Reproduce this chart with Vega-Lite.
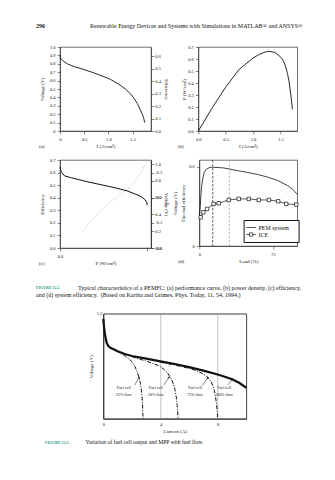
{
"$schema": "https://vega.github.io/schema/vega-lite/v6.json",
"background": "white",
"padding": {"left": 36, "top": 22, "right": 4, "bottom": 4},
"spacing": 10.7,
"resolve": {"scale": {"shape": "independent"}, "legend": {"shape": "independent"}},
"config": {
 "font": "Liberation Serif",
 "view": {"stroke": "#333", "strokeWidth": 0.7},
 "axis": {"labelFont": "Liberation Serif", "titleFont": "Liberation Serif", "labelFontSize": 4.5, "titleFontSize": 5, "titleFontWeight": "normal", "labelColor": "#111", "titleColor": "#111", "domainColor": "#333", "tickColor": "#333", "domainWidth": 0.7, "tickWidth": 0.6, "tickSize": 2.8, "labelPadding": 2.2, "titlePadding": 2.5, "grid": false, "labelFlush": false, "labelOverlap": false},
 "title": {"font": "Liberation Serif", "fontWeight": "normal", "color": "#111"}
},
"datasets": {
 "pa": [{"I":0,"V":0.9},{"I":0.02,"V":0.86},{"I":0.05,"V":0.84},{"I":0.15,"V":0.8},{"I":0.3,"V":0.765},{"I":0.45,"V":0.74},{"I":0.66,"V":0.7},{"I":0.87,"V":0.655},{"I":1.04,"V":0.615},{"I":1.22,"V":0.555},{"I":1.35,"V":0.5},{"I":1.46,"V":0.44},{"I":1.53,"V":0.39},{"I":1.6,"V":0.325},{"I":1.66,"V":0.25},{"I":1.7,"V":0.2},{"I":1.73,"V":0.15},{"I":1.75,"V":0.1}],
 "pb": [{"I":0,"P":0},{"I":0.1,"P":0.075},{"I":0.25,"P":0.19},{"I":0.5,"P":0.365},{"I":0.75,"P":0.515},{"I":1.0,"P":0.607},{"I":1.1,"P":0.635},{"I":1.2,"P":0.655},{"I":1.29,"P":0.665},{"I":1.4,"P":0.655},{"I":1.49,"P":0.623},{"I":1.55,"P":0.59},{"I":1.59,"P":0.546},{"I":1.63,"P":0.48},{"I":1.66,"P":0.41},{"I":1.68,"P":0.34},{"I":1.7,"P":0.27},{"I":1.72,"P":0.18}],
 "pc1": [{"k":1,"P":0,"E":0.645},{"k":2,"P":0.005,"E":0.62},{"k":3,"P":0.014,"E":0.6},{"k":4,"P":0.038,"E":0.573},{"k":5,"P":0.086,"E":0.56},{"k":6,"P":0.22,"E":0.527},{"k":7,"P":0.38,"E":0.493},{"k":8,"P":0.46,"E":0.475},{"k":9,"P":0.54,"E":0.455},{"k":10,"P":0.62,"E":0.424},{"k":11,"P":0.66,"E":0.405},{"k":12,"P":0.685,"E":0.385},{"k":13,"P":0.7,"E":0.363},{"k":14,"P":0.703,"E":0.35},{"k":15,"P":0.7,"E":0.34}],
 "pc2": [{"k":1,"P":0.7,"E":0.34},{"k":2,"P":0.648,"E":0.297},{"k":3,"P":0.594,"E":0.257},{"k":4,"P":0.487,"E":0.212},{"k":5,"P":0.38,"E":0.172},{"k":6,"P":0.273,"E":0.122},{"k":7,"P":0.18,"E":0.064}],
 "pem": [{"Load":0,"E":0.23},{"Load":1,"E":0.3},{"Load":1.7,"E":0.39},{"Load":2.5,"E":0.46},{"Load":3.8,"E":0.52},{"Load":5,"E":0.555},{"Load":7.2,"E":0.58},{"Load":11,"E":0.595},{"Load":15,"E":0.595},{"Load":25,"E":0.59},{"Load":39,"E":0.57},{"Load":50,"E":0.555},{"Load":60,"E":0.54},{"Load":70,"E":0.52},{"Load":80,"E":0.495},{"Load":90,"E":0.457},{"Load":95,"E":0.43},{"Load":100,"E":0.39}],
 "ice": [{"Load":1.4,"E":0.217},{"Load":4.1,"E":0.255},{"Load":7.9,"E":0.28},{"Load":14.6,"E":0.318},{"Load":19.8,"E":0.323},{"Load":30,"E":0.348},{"Load":40.3,"E":0.356},{"Load":50.5,"E":0.356},{"Load":60.7,"E":0.348},{"Load":71,"E":0.348},{"Load":80.5,"E":0.338},{"Load":88.7,"E":0.318},{"Load":99,"E":0.313}],
 "series": [{"s":"PEM system"},{"s":"ICE"}],
 "main": [{"I":0,"V":1.14},{"I":0.05,"V":1.05},{"I":0.12,"V":0.96},{"I":0.23,"V":0.87},{"I":0.35,"V":0.83},{"I":0.5,"V":0.81},{"I":0.75,"V":0.79},{"I":1,"V":0.77},{"I":1.5,"V":0.74},{"I":2,"V":0.716},{"I":3,"V":0.686},{"I":4,"V":0.656},{"I":5,"V":0.625},{"I":6,"V":0.59},{"I":7,"V":0.55},{"I":8,"V":0.505},{"I":8.5,"V":0.48},{"I":9,"V":0.45},{"I":9.5,"V":0.41},{"I":10,"V":0.354}],
 "fc": [{"f":"25","I":0.9,"V":0.775},{"f":"25","I":1.2,"V":0.75},{"f":"25","I":1.5,"V":0.72},{"f":"25","I":1.8,"V":0.685},{"f":"25","I":2.0,"V":0.65},{"f":"25","I":2.2,"V":0.6},{"f":"25","I":2.35,"V":0.545},{"f":"25","I":2.5,"V":0.47},{"f":"25","I":2.6,"V":0.4},{"f":"25","I":2.68,"V":0.3},{"f":"25","I":2.73,"V":0.2},{"f":"25","I":2.76,"V":0.1},{"f":"25","I":2.78,"V":0},
  {"f":"50","I":2,"V":0.708},{"f":"50","I":2.5,"V":0.683},{"f":"50","I":3,"V":0.658},{"f":"50","I":3.5,"V":0.63},{"f":"50","I":3.95,"V":0.6},{"f":"50","I":4.2,"V":0.57},{"f":"50","I":4.45,"V":0.53},{"f":"50","I":4.65,"V":0.485},{"f":"50","I":4.85,"V":0.42},{"f":"50","I":5,"V":0.34},{"f":"50","I":5.1,"V":0.25},{"f":"50","I":5.17,"V":0.15},{"f":"50","I":5.23,"V":0},
  {"f":"75","I":4,"V":0.645},{"f":"75","I":5,"V":0.613},{"f":"75","I":6,"V":0.575},{"f":"75","I":6.5,"V":0.55},{"f":"75","I":7,"V":0.512},{"f":"75","I":7.3,"V":0.475},{"f":"75","I":7.55,"V":0.42},{"f":"75","I":7.7,"V":0.36},{"f":"75","I":7.82,"V":0.28},{"f":"75","I":7.92,"V":0.17},{"f":"75","I":7.98,"V":0.06},{"f":"75","I":8.0,"V":0}],
 "lab": [{"I":1.43,"V":0.354,"t":"Fuel cell"},{"I":1.43,"V":0.27,"t":"25% flow"},{"I":3.67,"V":0.354,"t":"Fuel cell"},{"I":3.67,"V":0.27,"t":"50% flow"},{"I":6.42,"V":0.354,"t":"Fuel cell"},{"I":6.42,"V":0.27,"t":"75% flow"},{"I":8.45,"V":0.354,"t":"Fuel cell"},{"I":8.45,"V":0.27,"t":"100% flow"}],
 "arr": [{"I":2.2,"V":0.385,"I2":2.5,"V2":0.47},{"I":4.23,"V":0.385,"I2":4.6,"V2":0.475},{"I":6.93,"V":0.38,"I2":7.3,"V2":0.47},{"I":8.7,"V":0.385,"I2":9.05,"V2":0.455}]
},
"title": {"text": "296", "subtitle": "\u200b\u00a0\u00a0\u00a0\u00a0\u00a0\u00a0\u00a0\u00a0\u00a0\u00a0\u00a0\u00a0\u00a0\u00a0\u00a0\u00a0\u00a0\u00a0\u00a0\u00a0\u00a0\u00a0\u00a0\u00a0\u00a0\u00a0\u00a0\u00a0\u00a0\u00a0\u00a0\u00a0\u00a0\u00a0\u00a0\u00a0Renewable Energy Devices and Systems with Simulations in MATLAB® and ANSYS®", "orient": "top", "anchor": "start", "frame": "group", "dx": -24, "offset": 15, "fontSize": 6, "fontWeight": "bold", "color": "#111", "subtitleFontSize": 6, "subtitleFont": "Liberation Serif", "subtitleColor": "#111", "subtitlePadding": -6},
"vconcat": [
 {"spacing": 6, "resolve": {"scale": {"shape": "independent"}, "legend": {"shape": "independent"}}, "vconcat": [
  {"bounds": "flush", "spacing": 47.3, "hconcat": [
   {"width": 91, "height": 84,
    "title": {"text": "(a)", "orient": "bottom", "anchor": "start", "frame": "group", "dx": -21, "offset": -4, "fontSize": 5},
    "layer": [
     {"data": {"name": "pa"}, "mark": {"type": "line", "color": "#111", "strokeWidth": 0.9},
      "encoding": {
       "x": {"field": "I", "type": "quantitative", "scale": {"domain": [0, 1.88], "nice": false}, "axis": {"values": [0, 0.5, 1, 1.5], "labelExpr": "datum.value==0?'0':format(datum.value,'.1f')", "title": "I (A/cm²)"}},
       "y": {"field": "V", "type": "quantitative", "scale": {"domain": [0, 1], "nice": false}, "axis": {"values": [0,0.1,0.2,0.3,0.4,0.5,0.6,0.7,0.8,0.9,1], "labelExpr": "datum.value==0?'0':format(datum.value,'.1f')", "title": "Voltage (V)", "titlePadding": 5}}}},
     {"data": {"values": [{}]}, "mark": {"type": "point", "opacity": 0},
      "encoding": {"y": {"datum": 0, "type": "quantitative", "scale": {"domain": [0, 0.676], "nice": false}, "axis": {"orient": "right", "values": [0,0.1,0.2,0.3,0.4,0.5,0.6], "format": ".1f", "title": "Efficiency", "titlePadding": 3, "labelPadding": 1}}}}
    ],
    "resolve": {"scale": {"y": "independent"}}
   },
   {"width": 99, "height": 84,
    "title": {"text": "(b)", "orient": "bottom", "anchor": "start", "frame": "group", "dx": -20.5, "offset": -4, "fontSize": 5},
    "data": {"name": "pb"}, "mark": {"type": "line", "color": "#111", "strokeWidth": 0.9},
    "encoding": {
     "x": {"field": "I", "type": "quantitative", "scale": {"domain": [0, 1.81], "nice": false}, "axis": {"values": [0, 0.5, 1, 1.5], "format": ".1f", "title": "I (A/cm²)"}},
     "y": {"field": "P", "type": "quantitative", "scale": {"domain": [0, 0.7], "nice": false}, "axis": {"values": [0,0.1,0.2,0.3,0.4,0.5,0.6,0.7], "format": ".1f", "title": "P (W/cm²)", "titlePadding": 1}}}
   }
  ]},
  {"bounds": "flush", "spacing": 48.3,
   "resolve": {"scale": {"shape": "independent"}, "legend": {"shape": "independent"}},
   "title": {"text": "FIGURE 12.2", "subtitle": ["\u200b\u00a0\u00a0\u00a0\u00a0\u00a0\u00a0\u00a0\u00a0\u00a0\u00a0\u00a0\u00a0\u00a0\u00a0\u00a0\u00a0\u00a0\u00a0\u00a0\u00a0\u00a0\u00a0\u00a0\u00a0\u00a0\u00a0\u00a0\u00a0Typical characteristics of a PEMFC: (a) performance curve, (b) power density, (c) efficiency,", "and (d) system efficiency.\u00a0 (Based on Kartha and Grimes, Phys. Today, 11, 54, 1994.)"], "orient": "bottom", "anchor": "start", "frame": "group", "dx": -24, "offset": 20, "fontSize": 4, "fontWeight": "bold", "color": "#2f9484", "subtitleFontSize": 6, "subtitleFont": "Liberation Serif", "subtitleColor": "#111", "subtitlePadding": -5.6, "subtitleLineHeight": 7.7},
   "hconcat": [
   {"width": 91, "height": 88,
    "title": {"text": "(c)", "orient": "bottom", "anchor": "start", "frame": "group", "dx": -21, "offset": -4, "fontSize": 5},
    "layer": [
     {"data": {"name": "pc1"}, "mark": {"type": "line", "color": "#111", "strokeWidth": 1},
      "encoding": {
       "x": {"field": "P", "type": "quantitative", "scale": {"domain": [0, 0.734], "nice": false}, "axis": {"values": [0,0.05,0.1,0.15,0.2,0.25,0.3,0.35,0.4,0.45,0.5,0.55,0.6,0.65,0.7], "labelExpr": "abs(datum.value*5-round(datum.value*5))<0.01 ? format(datum.value,'.1f') : ''", "title": "P (W/cm²)"}},
       "y": {"field": "E", "type": "quantitative", "scale": {"domain": [0, 0.7], "nice": false}, "axis": {"values": [0,0.1,0.2,0.3,0.4,0.5,0.6,0.7], "format": ".1f", "title": "Efficiency", "titlePadding": 5}},
       "order": {"field": "k"}}},
     {"data": {"name": "pc2"}, "mark": {"type": "line", "color": "#888", "strokeWidth": 0.8, "strokeDash": [0.8, 2]},
      "encoding": {
       "x": {"field": "P", "type": "quantitative"},
       "y": {"field": "E", "type": "quantitative"},
       "order": {"field": "k"}}},
     {"data": {"values": [{}]}, "mark": {"type": "point", "opacity": 0},
      "encoding": {"y": {"datum": 0, "type": "quantitative", "scale": {"domain": [0, 1.05], "nice": false}, "axis": {"orient": "right", "values": [0,0.2,0.4,0.6,0.8,1], "format": ".1f", "title": "Voltage (V)", "titlePadding": 3, "labelPadding": 1}}}}
    ],
    "resolve": {"scale": {"y": "independent"}}
   },
   {"width": 98, "height": 86,
    "title": {"text": "(d)", "orient": "bottom", "anchor": "start", "frame": "group", "dx": -21, "offset": -4, "fontSize": 5},
    "resolve": {"scale": {"shape": "independent"}, "legend": {"shape": "independent"}},
    "layer": [
     {"data": {"name": "pem"}, "mark": {"type": "line", "color": "#111", "strokeWidth": 0.8},
      "encoding": {
       "x": {"field": "Load", "type": "quantitative", "scale": {"domain": [0, 100], "nice": false}, "axis": {"values": [0, 25, 50, 75], "title": "Load (%)"}},
       "y": {"field": "E", "type": "quantitative", "scale": {"domain": [0, 0.65], "nice": false}, "axis": {"values": [0,0.1,0.2,0.3,0.4,0.5,0.6], "labelExpr": "datum.value==0?'0':format(datum.value,'.1f')", "title": ["Voltage (V)", "Thermal efficiency"], "titlePadding": 3, "titleLineHeight": 8}}}},
     {"data": {"values": [{"Load": 13.7}]}, "mark": {"type": "rule", "color": "#222", "strokeWidth": 0.7, "strokeDash": [2.5, 1.5]},
      "encoding": {"x": {"field": "Load", "type": "quantitative"}}},
     {"data": {"values": [{"Load": 30.6}]}, "mark": {"type": "rule", "color": "#999", "strokeWidth": 0.7, "strokeDash": [2.5, 1.5]},
      "encoding": {"x": {"field": "Load", "type": "quantitative"}}},
     {"data": {"name": "ice"}, "mark": {"type": "line", "color": "#111", "strokeWidth": 0.7},
      "encoding": {"x": {"field": "Load", "type": "quantitative"}, "y": {"field": "E", "type": "quantitative"}}},
     {"data": {"name": "ice"}, "mark": {"type": "point", "shape": "square", "filled": true, "fill": "white", "stroke": "#111", "strokeWidth": 0.7, "size": 12, "opacity": 1},
      "encoding": {"x": {"field": "Load", "type": "quantitative"}, "y": {"field": "E", "type": "quantitative"}}},
     {"data": {"name": "series"}, "mark": {"type": "point", "opacity": 0, "color": "#111", "strokeWidth": 0.7},
      "encoding": {
       "shape": {"field": "s", "type": "nominal", "scale": {"domain": ["PEM system", "ICE"], "range": ["M-1.5,0H1.5", "M-1.5,0H-0.52M0.52,0H1.5M-0.52,-0.52H0.52V0.52H-0.52Z"]},
        "legend": {"orient": "none", "legendX": 44.3, "legendY": 60, "title": null, "strokeColor": "#111", "fillColor": "white", "padding": 3.5, "labelFont": "Liberation Serif", "labelFontSize": 6, "labelColor": "#111", "labelOffset": 3.3, "rowPadding": 0, "symbolSize": 40, "symbolOpacity": 1, "symbolStrokeColor": "#111", "symbolFillColor": "white", "symbolStrokeWidth": 0.7,
         "labelExpr": "datum.label + '\u00a0\u00a0\u00a0\u00a0\u200b'"}}}}
    ]
   }
  ]}
 ]},
 {"bounds": "flush", "spacing": 42.3,
  "title": {"text": "FIGURE 12.3", "subtitle": "\u200b\u00a0\u00a0\u00a0\u00a0\u00a0\u00a0\u00a0\u00a0\u00a0\u00a0\u00a0\u00a0\u00a0\u00a0\u00a0\u00a0\u00a0\u00a0\u00a0\u00a0\u00a0\u00a0\u00a0\u00a0\u00a0\u00a0\u00a0\u00a0\u00a0Variation of fuel cell output and MPP with fuel flow.", "orient": "bottom", "anchor": "start", "frame": "group", "dx": -15, "offset": 7.5, "fontSize": 4, "fontWeight": "bold", "color": "#2f9484", "subtitleFontSize": 5.6, "subtitleFont": "Liberation Serif", "subtitleColor": "#111", "subtitlePadding": -5.3},
  "hconcat": [
   {"width": 1, "height": 1, "view": {"stroke": null}, "data": {"values": [{}]}, "mark": {"type": "point", "opacity": 0}},
   {"width": 143, "height": 105, "view": {"stroke": "#111", "strokeWidth": 0.8},
    "layer": [
     {"data": {"name": "fc"}, "mark": {"type": "line", "color": "#111", "strokeWidth": 1, "strokeDash": [4, 1.5, 1, 1.5]},
      "encoding": {
       "x": {"field": "I", "type": "quantitative", "scale": {"domain": [0, 10], "nice": false}, "axis": {"values": [0,2,4,6,8,10], "format": "d", "grid": true, "gridColor": "#999", "gridWidth": 0.6, "tickSize": 0, "labelPadding": 3, "title": "Current (A)", "titlePadding": 2, "domainColor": "#111"}},
       "y": {"field": "V", "type": "quantitative", "scale": {"domain": [0, 1.2], "nice": false}, "axis": {"values": [0,0.2,0.4,0.6,0.8,1,1.2], "labelExpr": "datum.value==0?'':format(datum.value,'.1f')", "grid": true, "gridColor": "#999", "gridWidth": 0.6, "tickSize": 0, "labelPadding": 1.5, "title": "Voltage (V)", "titlePadding": 3, "domainColor": "#111"}},
       "detail": {"field": "f"}}},
     {"data": {"name": "main"}, "mark": {"type": "line", "color": "#111", "strokeWidth": 2.2},
      "encoding": {"x": {"field": "I", "type": "quantitative"}, "y": {"field": "V", "type": "quantitative"}}},
     {"data": {"name": "arr"}, "mark": {"type": "rule", "color": "#111", "strokeWidth": 0.5},
      "encoding": {"x": {"field": "I", "type": "quantitative"}, "y": {"field": "V", "type": "quantitative"}, "x2": {"field": "I2"}, "y2": {"field": "V2"}}},
     {"data": {"name": "arr"}, "mark": {"type": "point", "shape": "triangle-up", "angle": 29, "filled": true, "color": "#111", "size": 5, "opacity": 1},
      "encoding": {"x": {"field": "I2", "type": "quantitative"}, "y": {"field": "V2", "type": "quantitative"}}},
     {"data": {"name": "lab"}, "mark": {"type": "text", "fontSize": 4, "font": "Liberation Serif", "color": "#111"},
      "encoding": {"x": {"field": "I", "type": "quantitative"}, "y": {"field": "V", "type": "quantitative"}, "text": {"field": "t"}}}
    ]
   }
  ]}
]
}
